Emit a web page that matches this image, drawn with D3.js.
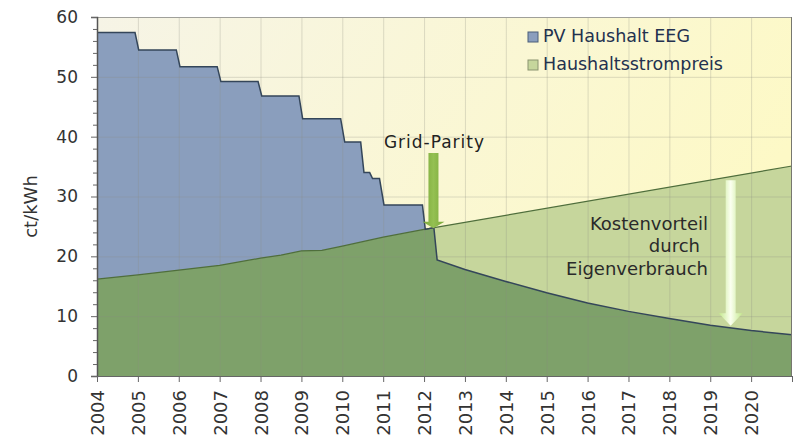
<!DOCTYPE html>
<html>
<head>
<meta charset="utf-8">
<script src="https://cdn.jsdelivr.net/npm/d3@7"></script>
<style>
  body { margin: 0; background: #fff; }
  svg { display: block; font-family: "DejaVu Sans", Verdana, sans-serif; }
</style>
</head>
<body>
<svg id="chart"></svg>
<script>
// year tick labels
const yearLabels = [2004, 2005, 2006, 2007, 2008, 2009, 2010, 2011, 2012,
                    2013, 2014, 2015, 2016, 2017, 2018, 2019, 2020];
const yTicks = [0, 10, 20, 30, 40, 50, 60];

// PV Haushalt EEG (step curve)
const pvYears  = [2004, 2004.93, 2005.02, 2005.94, 2006.03, 2006.94, 2007.03, 2007.94, 2008.03,
                  2008.94, 2009.03, 2009.96, 2010.06, 2010.45, 2010.53, 2010.67, 2010.74,
                  2010.91, 2011.02, 2011.96, 2012.03, 2012.24, 2012.32, 2013, 2014, 2015,
                  2016, 2017, 2018, 2019, 2020, 2021];
const pvValues = [57.4, 57.4, 54.5, 54.5, 51.7, 51.7, 49.2, 49.2, 46.8,
                  46.8, 43.0, 43.0, 39.1, 39.1, 34.0, 34.0, 33.0,
                  33.0, 28.6, 28.6, 24.5, 24.8, 19.4, 17.8, 15.8, 13.9,
                  12.2, 10.8, 9.6, 8.5, 7.6, 6.9];

// Haushaltsstrompreis
const priceYears  = [2004, 2005, 2006, 2007, 2008, 2008.5, 2009, 2009.5, 2010, 2011, 2012, 2021];
const priceValues = [16.2, 16.9, 17.7, 18.5, 19.7, 20.2, 20.9, 21.0, 21.7, 23.2, 24.5, 35.1];

const width = 794, height = 439;
const margin = { top: 17, right: 2, bottom: 63, left: 97 };

const svg = d3.select("#chart").attr("width", width).attr("height", height);

const x = d3.scaleLinear().domain([2004, 2021]).range([margin.left, width - margin.right]);
const y = d3.scaleLinear().domain([0, 60]).range([height - margin.bottom, margin.top]);

const pvData = pvYears.map((t, i) => ({ t, v: pvValues[i] }));
const priceData = priceYears.map((t, i) => ({ t, v: priceValues[i] }));

const defs = svg.append("defs");

const bg = defs.append("linearGradient").attr("id", "bg")
    .attr("x1", 0).attr("y1", 0).attr("x2", 1).attr("y2", 0.35);
bg.append("stop").attr("offset", "0%").attr("stop-color", "#f6f4e6");
bg.append("stop").attr("offset", "100%").attr("stop-color", "#fdf9c6");

const arrowGrad = defs.append("linearGradient").attr("id", "arrowLight")
    .attr("x1", 0).attr("y1", 0).attr("x2", 1).attr("y2", 0);
arrowGrad.append("stop").attr("offset", "0%").attr("stop-color", "#c2e88a");
arrowGrad.append("stop").attr("offset", "50%").attr("stop-color", "#fbfff0");
arrowGrad.append("stop").attr("offset", "100%").attr("stop-color", "#c2e88a");

const gpGrad = defs.append("linearGradient").attr("id", "arrowGP")
    .attr("x1", 0).attr("y1", 0).attr("x2", 1).attr("y2", 0);
gpGrad.append("stop").attr("offset", "0%").attr("stop-color", "#7aa83a");
gpGrad.append("stop").attr("offset", "50%").attr("stop-color", "#94c052");
gpGrad.append("stop").attr("offset", "100%").attr("stop-color", "#7aa83a");

const area = d3.area().x(d => x(d.t)).y0(y(0)).y1(d => y(d.v));
const line = d3.line().x(d => x(d.t)).y(d => y(d.v));

defs.append("clipPath").attr("id", "pvClip")
    .append("path").attr("d", area(pvData));

// plot background
svg.append("rect")
    .attr("x", margin.left).attr("y", margin.top)
    .attr("width", width - margin.left - margin.right)
    .attr("height", height - margin.top - margin.bottom)
    .attr("fill", "url(#bg)");

// PV area
svg.append("path").attr("d", area(pvData)).attr("fill", "#8a9ebd");
// household price area (light where above PV, dark where overlapping)
svg.append("path").attr("d", area(priceData)).attr("fill", "#c6d69c");
svg.append("path").attr("d", area(priceData)).attr("fill", "#7ea16a")
    .attr("clip-path", "url(#pvClip)");

// grid lines
const grid = svg.append("g").attr("stroke", "#8c8c80").attr("stroke-opacity", 0.28).attr("stroke-width", 1);
grid.selectAll("line.v").data(yearLabels.slice(1)).join("line")
    .attr("x1", d => x(d) + 0.5).attr("x2", d => x(d) + 0.5)
    .attr("y1", margin.top).attr("y2", y(0));
grid.selectAll("line.h").data(yTicks.slice(1, -1)).join("line")
    .attr("x1", margin.left).attr("x2", width - margin.right)
    .attr("y1", d => y(d) + 0.5).attr("y2", d => y(d) + 0.5);

// outlines
svg.append("path").attr("d", line(priceData)).attr("fill", "none")
    .attr("stroke", "#4f6e3c").attr("stroke-width", 1.2);
svg.append("path").attr("d", line(pvData)).attr("fill", "none")
    .attr("stroke", "#34465a").attr("stroke-width", 1.5);

// plot frame
svg.append("line").attr("x1", margin.left).attr("x2", width - margin.right)
    .attr("y1", margin.top + 0.5).attr("y2", margin.top + 0.5)
    .attr("stroke", "#a0a09a");
svg.append("line").attr("x1", width - margin.right - 0.5).attr("x2", width - margin.right - 0.5)
    .attr("y1", margin.top).attr("y2", y(0))
    .attr("stroke", "#77776f");

// y axis
const yAxis = svg.append("g").attr("transform", `translate(${margin.left},0)`)
    .call(d3.axisLeft(y).tickValues(yTicks).tickSize(6).tickPadding(13));
svg.append("g").attr("transform", `translate(${margin.left},0)`)
    .call(d3.axisLeft(y).tickValues(d3.range(0, 61, 2).filter(v => v % 10 !== 0)).tickSize(4).tickFormat(""))
    .call(g => g.select(".domain").remove())
    .selectAll("line").attr("stroke", "#666");
yAxis.select(".domain").attr("stroke", "#555").attr("stroke-width", 1.5);
yAxis.selectAll("line").attr("stroke", "#666");
yAxis.selectAll("text").attr("font-size", 17).attr("fill", "#333")
    .attr("font-family", "DejaVu Sans, Verdana, sans-serif");

// x axis
const xAxis = svg.append("g").attr("transform", `translate(0,${y(0)})`)
    .call(d3.axisBottom(x).tickValues(yearLabels.concat([2021])).tickSize(6).tickFormat(d => d === 2021 ? "" : d));
xAxis.select(".domain").attr("stroke", "#666");
xAxis.selectAll("line").attr("stroke", "#666");
xAxis.selectAll("text")
    .attr("font-size", 18).attr("fill", "#333")
    .attr("font-family", "DejaVu Sans, Verdana, sans-serif")
    .attr("text-anchor", "end")
    .attr("transform", "rotate(-90)")
    .attr("x", -14).attr("y", 0).attr("dy", "0.36em");

// y axis title
svg.append("text")
    .attr("transform", `translate(37,${(margin.top + y(0)) / 2 + 10}) rotate(-90)`)
    .attr("text-anchor", "middle")
    .attr("font-size", 18).attr("fill", "#333")
    .text("ct/kWh");

// legend
const legendItems = [
    { label: "PV Haushalt EEG", fill: "#8a9ebd", stroke: "#4a5e7a" },
    { label: "Haushaltsstrompreis", fill: "#c6d69c", stroke: "#8a9470" }
];
const legend = svg.append("g").attr("transform", "translate(528,29)");
legend.selectAll("g").data(legendItems).join("g")
    .attr("transform", (d, i) => `translate(0,${i * 28})`)
    .each(function (d) {
        const g = d3.select(this);
        g.append("rect").attr("x", 0).attr("y", 3).attr("width", 10).attr("height", 10)
            .attr("fill", d.fill).attr("stroke", d.stroke);
        g.append("text").attr("x", 15).attr("y", 13)
            .attr("font-size", 17.5).attr("fill", "#23314f").text(d.label);
    });

// Grid-Parity arrow
const gpX = x(2012.23);
svg.append("path")
    .attr("d", `M${gpX - 5},153 L${gpX + 5},153 L${gpX + 5},${y(25.8)} L${gpX + 11},${y(25.8)} L${gpX},${y(24.7)} L${gpX - 11},${y(25.8)} L${gpX - 5},${y(25.8)} Z`)
    .attr("fill", "url(#arrowGP)");
svg.append("text").attr("x", gpX + 1).attr("y", 148)
    .attr("text-anchor", "middle").attr("font-size", 17).attr("letter-spacing", 1)
    .attr("fill", "#222")
    .text("Grid-Parity");

// Kostenvorteil arrow
const kvX = x(2019.5);
const kvTop = y(32.7), kvHead = y(10.5), kvTip = y(8.4);
svg.append("path")
    .attr("d", `M${kvX - 5},${kvTop} L${kvX + 5},${kvTop} L${kvX + 5},${kvHead} L${kvX + 12},${kvHead} L${kvX},${kvTip} L${kvX - 12},${kvHead} L${kvX - 5},${kvHead} Z`)
    .attr("fill", "url(#arrowLight)");

const kvLines = [["Kostenvorteil", 708, 230], ["durch", 700, 252], ["Eigenverbrauch", 708, 275]];
svg.selectAll("text.kv").data(kvLines).join("text")
    .attr("class", "kv")
    .attr("x", d => d[1]).attr("y", d => d[2])
    .attr("text-anchor", "end").attr("font-size", 18).attr("fill", "#2a2a2a")
    .text(d => d[0]);
</script>
</body>
</html>
